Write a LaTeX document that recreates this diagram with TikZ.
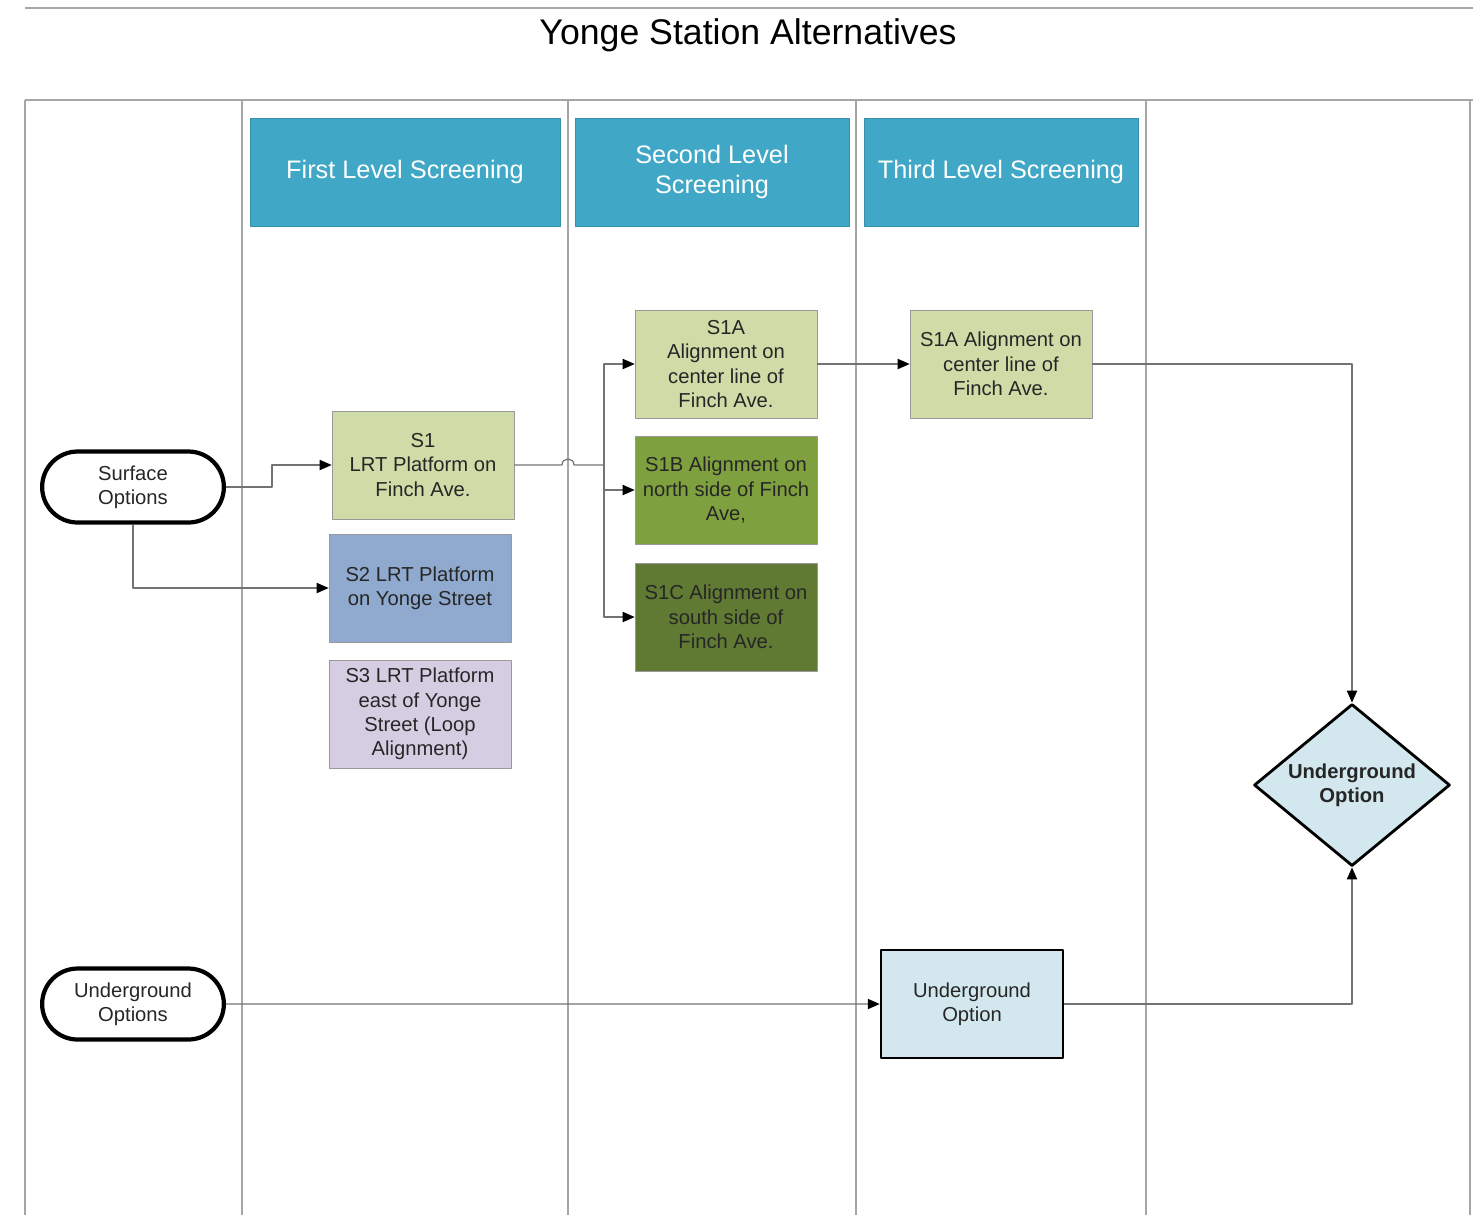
\documentclass[tikz,border=0pt]{standalone}
\usepackage{fontspec}
\setmainfont{Liberation Sans}
\usetikzlibrary{shapes.geometric,shapes.misc,arrows.meta}
\definecolor{hdrblue}{RGB}{64,168,198}
\definecolor{palegreen}{RGB}{207,220,168}
\definecolor{midgreen}{RGB}{126,160,62}
\definecolor{darkgreen}{RGB}{96,122,52}
\definecolor{steelbox}{RGB}{143,170,206}
\definecolor{lavbox}{RGB}{213,206,227}
\definecolor{iceblue}{RGB}{210,232,238}
\begin{document}
\begin{tikzpicture}[x=0.02cm, y=-0.02cm, line join=round,
    >={Triangle[length=6.8pt,width=5.8pt,color=black]},
    every node/.style={font=\fontsize{11.5}{13.9}\selectfont, align=center, text=black!85},
    lane/.style={draw=black!35, line width=0.8pt},
    header/.style={fill=hdrblue, draw=hdrblue!85!black, text=white, minimum height=2.16cm, inner sep=1pt, font=\fontsize{14.4}{17.4}\selectfont},
    box/.style={draw=black!40, minimum width=3.64cm, minimum height=2.16cm, inner sep=1pt},
    term/.style={rounded rectangle, draw=black, line width=2.4pt, minimum width=3.87cm, minimum height=1.42cm},
    conn/.style={draw=black!55, line width=0.7pt}]
    \useasboundingbox (0,0) rectangle (1473,1215);
    % frame and lanes
    \draw[lane] (25,8) -- (1473,8);
    \draw[lane] (25,100) -- (1473,100);
    \foreach \x in {25,242,568,856,1146,1470} \draw[lane] (\x,100) -- (\x,1215);
    \node[font=\fontsize{20.3}{24}\selectfont, text=black] (title) at (748,35) {Yonge Station Alternatives};
    \node[header, minimum width=6.2cm] (lvl1) at (405,172) {First Level Screening};
    \node[header, minimum width=5.48cm] (lvl2) at (712,172) {Second Level\\Screening};
    \node[header, minimum width=5.48cm] (lvl3) at (1001,172) {Third Level Screening};
    % start points
    \node[term] (surf) at (133,487) {Surface\\Options};
    \node[term] (under) at (133,1004) {Underground\\Options};
    % first level
    \node[box, fill=palegreen] (s1) at (423,465) {S1\\LRT Platform on\\Finch Ave.};
    \node[box, fill=steelbox] (s2) at (420,588) {S2 LRT Platform\\on Yonge Street};
    \node[box, fill=lavbox] (s3) at (420,714) {S3 LRT Platform\\east of Yonge\\Street (Loop\\Alignment)};
    % second level
    \node[box, fill=palegreen] (s1a) at (726,364) {S1A\\Alignment on\\center line of\\Finch Ave.};
    \node[box, fill=midgreen] (s1b) at (726,490) {S1B Alignment on\\north side of Finch\\Ave,};
    \node[box, fill=darkgreen] (s1c) at (726,617) {S1C Alignment on\\south side of\\Finch Ave.};
    % third level
    \node[box, fill=palegreen] (s1afin) at (1001,364) {S1A Alignment on\\center line of\\Finch Ave.};
    \node[box, fill=iceblue, draw=black, line width=1.5pt] (ugbox) at (972,1004) {Underground\\Option};
    \node[diamond, aspect=1.21, inner sep=0pt, minimum width=3.92cm, minimum height=3.24cm,
        fill=iceblue, draw=black, line width=1.6pt, font=\bfseries\fontsize{11.5}{13.9}\selectfont] (ugdia) at (1352,785) {Underground\\Option};
    % connectors
    \coordinate (fork) at (604,465);
    \draw[conn,->] (surf.east) -- (272,487) |- (s1.west);
    \draw[conn,->] (surf.south) |- (s2.west);
    \draw[conn] (s1.east) -- (562,465) .. controls (562,457) and (574,457) .. (574,465) -- (fork);
    \draw[conn,->] (fork) |- (s1a.west);
    \draw[conn,->] (fork) |- (s1b.west);
    \draw[conn,->] (fork) |- (s1c.west);
    \draw[conn,->] (s1a) -- (s1afin);
    \draw[conn,->] (s1afin.east) -| (ugdia.north);
    \draw[conn,->] (under) -- (ugbox);
    \draw[conn,->] (ugbox.east) -| (ugdia.south);
\end{tikzpicture}
\end{document}
